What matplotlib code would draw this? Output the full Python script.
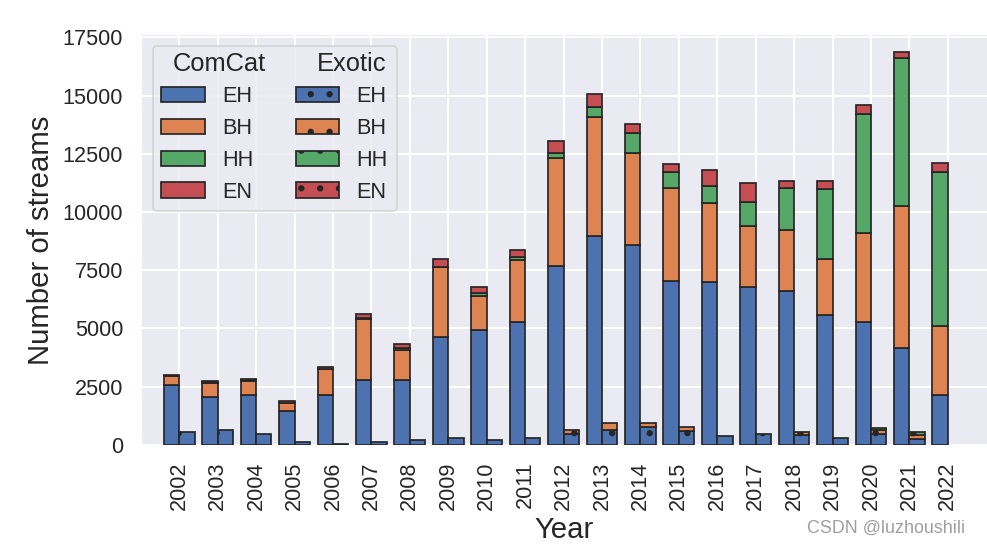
import matplotlib
matplotlib.use("Agg")
import matplotlib.pyplot as plt
import numpy as np
from matplotlib.patches import Patch

# ---------------- data ----------------
years = list(range(2002, 2023))
categories = ["EH", "BH", "HH", "EN"]

comcat_EH = [2560, 2070, 2150, 1440, 2150, 2790, 2790, 4650, 4940, 5270, 7700,
             8990, 8590, 7050, 6990, 6800, 6610, 5570, 5280, 4150, 2140]
comcat_BH = [400, 580, 610, 370, 1110, 2610, 1290, 2990, 1470, 2670, 4610,
             5090, 3960, 4000, 3420, 2620, 2620, 2400, 3810, 6130, 2980]
comcat_HH = [0, 60, 20, 0, 0, 30, 90, 20, 130, 130, 240,
             430, 830, 690, 720, 1000, 1820, 3030, 5110, 6360, 6620]
comcat_EN = [40, 50, 70, 70, 70, 180, 170, 330, 240, 290, 500,
             560, 390, 340, 660, 840, 300, 330, 400, 230, 380]

exotic_EH = [540, 660, 450, 130, 30, 120, 230, 300, 210, 300, 460,
             620, 760, 600, 400, 450, 420, 300, 450, 260, 0]
exotic_BH = [0, 0, 0, 0, 0, 0, 0, 0, 0, 0, 180,
             320, 170, 160, 0, 0, 120, 0, 170, 180, 0]
exotic_HH = [0, 0, 0, 0, 0, 0, 0, 0, 0, 0, 0,
             0, 0, 0, 0, 0, 0, 0, 110, 100, 0]
exotic_EN = [0] * 21

yticks = [0, 2500, 5000, 7500, 10000, 12500, 15000, 17500]

# ---------------- style ----------------
colors = ["#4C72B0", "#DD8452", "#55A868", "#C44E52"]
text_color = "#262626"
plt.rcParams["font.family"] = ["Liberation Sans", "DejaVu Sans"]
plt.rcParams["text.color"] = text_color
plt.rcParams["axes.labelcolor"] = text_color
plt.rcParams["xtick.color"] = text_color
plt.rcParams["ytick.color"] = text_color
plt.rcParams["hatch.linewidth"] = 1.6

DPI = 113
W, H = 987, 547
fig = plt.figure(figsize=(W / DPI, H / DPI), dpi=DPI)
ax_left, ax_right, ax_top, ax_bottom = 142, 987, 35, 444.9
ax = fig.add_axes([ax_left / W, 1 - ax_bottom / H,
                   (ax_right - ax_left) / W, (ax_bottom - ax_top) / H])
ax.set_facecolor("#EAEAF2")
for s in ax.spines.values():
    s.set_visible(False)
ax.grid(True, color="white", linewidth=1.3)
ax.set_axisbelow(True)

x = np.arange(len(years))
width = 0.4
edge = "#262626"
lw = 1.1


def draw_stack(series_list, offset, hatch=None):
    bottom = np.zeros(len(years))
    for vals, col in zip(series_list, colors):
        v = np.array(vals, dtype=float)
        h = np.where(v > 0, v, np.nan)
        ax.bar(x + offset, h, width, bottom=bottom, color=col,
               edgecolor=edge, linewidth=lw, hatch=hatch)
        bottom = bottom + v


draw_stack([comcat_EH, comcat_BH, comcat_HH, comcat_EN], -width / 2)
draw_stack([exotic_EH, exotic_BH, exotic_HH, exotic_EN], width / 2, hatch=".")

ax.set_xlim(-0.97, 21.02)
ax.set_ylim(0, 17607)
ax.set_xticks(x)
ax.set_xticklabels([str(y) for y in years], rotation=90, fontsize=13.75)
ax.set_yticks(yticks)
ax.set_yticklabels([str(t) for t in yticks], fontsize=13.75)
ax.tick_params(axis="both", length=0)
ax.tick_params(axis="y", pad=12.0)
ax.tick_params(axis="x", pad=10.5)
ax.set_xlabel("Year", fontsize=18.75, labelpad=3.6)
ax.set_ylabel("Number of streams", fontsize=18.75, labelpad=5)

# ---------------- legend ----------------
blank = Patch(facecolor="none", edgecolor="none")
handles = [blank] + [Patch(facecolor=c, edgecolor=edge, linewidth=lw) for c in colors] \
    + [blank] + [Patch(facecolor=c, edgecolor=edge, linewidth=lw, hatch=".") for c in colors]
labels = [""] + categories + [""] + categories
leg = ax.legend(handles, labels, ncol=2, loc="upper left", fontsize=13.75,
                frameon=True, facecolor="#EAEAF2", edgecolor="#CCCCCC",
                framealpha=0.8, columnspacing=2.0, handlelength=2.0)
leg.get_frame().set_linewidth(1.0)

fig.text(219.5 / W, 1 - 64 / H, "ComCat", ha="center", va="center",
         fontsize=16.25, color=text_color)
fig.text(351.7 / W, 1 - 64 / H, "Exotic", ha="center", va="center",
         fontsize=16.25, color=text_color)

fig.text(886 / W, 1 - 528 / H, "CSDN @luzhoushili", ha="center", va="center",
         fontsize=11.4, color="#A0A0A0")

fig.savefig("out.png", dpi=DPI)
